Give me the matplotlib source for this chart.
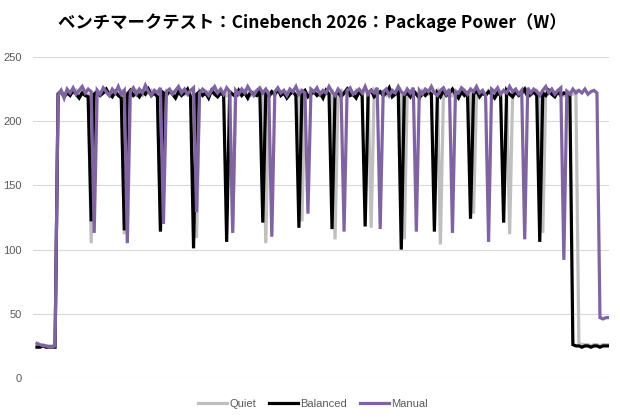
import matplotlib
matplotlib.use('Agg')
import matplotlib.pyplot as plt

# Package Power (W) per sample
quiet = [25, 25, 26, 25, 25, 25, 25,
         222, 224, 221,
         223, 221, 222, 224, 220, 223, 222, 221, 105, 222,
         224, 221, 223, 222, 220, 224, 222, 221, 223, 112,
         222, 223, 221, 224, 222, 220, 223, 222, 224, 221,
         223, 116, 221, 224, 222, 223, 220, 222, 224, 221,
         223, 222, 220, 109, 224, 222, 221, 223, 222, 224,
         221, 223, 222, 220, 224, 115, 222, 223, 221, 224,
         222, 220, 223, 222, 224, 221, 105, 223, 222, 220,
         224, 222, 221, 223, 222, 224, 220, 223, 122, 222,
         221, 224, 222, 223, 220, 222, 224, 221, 223, 108,
         222, 224, 221, 223, 222, 220, 224, 222, 221, 223,
         222, 117, 224, 221, 223, 222, 220, 224, 222, 221,
         223, 222, 108, 224, 221, 223, 222, 220, 224, 222,
         221, 223, 222, 224, 104, 221, 223, 222, 220, 224,
         222, 221, 223, 222, 224, 128, 221, 223, 222, 220,
         224, 222, 221, 223, 222, 224, 220, 112, 223, 222,
         221, 224, 222, 223, 220, 222, 224, 221, 113, 223,
         222, 224, 221, 223, 222, 220, 224, 222, 221, 223,
         27, 26, 26, 26, 25, 26, 26, 25, 26, 26, 26]

balanced = [24, 24, 25, 24, 24, 24, 24,
            221, 223, 219,
            222, 220, 224, 221, 218, 222, 220, 219, 122, 221,
            223, 220, 222, 225, 221, 219, 223, 220, 218, 115,
            221, 224, 220, 222, 219, 223, 221, 225, 220, 222,
            219, 114, 222, 220, 224, 221, 218, 223, 220, 222,
            225, 219, 101, 221, 223, 220, 222, 218, 224, 221,
            219, 222, 220, 106, 223, 221, 219, 224, 220, 222,
            218, 223, 221, 220, 224, 121, 222, 219, 223, 221,
            225, 220, 222, 218, 221, 223, 220, 117, 222, 224,
            219, 221, 223, 220, 222, 218, 224, 221, 116, 220,
            223, 219, 222, 225, 220, 221, 218, 223, 220, 118,
            222, 224, 219, 221, 223, 220, 222, 226, 219, 221,
            223, 100, 220, 222, 219, 224, 221, 218, 222, 220,
            223, 221, 114, 222, 219, 224, 220, 222, 225, 221,
            218, 223, 220, 222, 124, 221, 224, 219, 222, 220,
            223, 221, 218, 222, 220, 121, 224, 221, 219, 223,
            220, 222, 225, 219, 221, 223, 220, 106, 222, 220,
            224, 221, 219, 223, 220, 222, 221, 220,
            26, 25, 25, 24, 25, 25, 24, 25, 25, 24, 25, 25, 25]

manual = [27, 26, 25, 25, 24, 24, 25,
          220, 224, 218,
          225, 222, 226, 221, 224, 227, 222, 225, 223, 113,
          224, 221, 226, 223, 220, 225, 222, 227, 221, 224,
          105, 223, 226, 221, 225, 222, 228, 223, 220, 224,
          222, 226, 120, 223, 225, 221, 224, 227, 222, 225,
          221, 224, 226, 129, 222, 225, 223, 220, 224, 227,
          222, 225, 221, 226, 223, 113, 224, 221, 225, 222,
          227, 223, 220, 224, 226, 222, 225, 221, 110, 223,
          226, 222, 224, 220, 225, 223, 227, 221, 224, 222,
          128, 225, 223, 226, 221, 224, 222, 227, 223, 220,
          225, 222, 114, 224, 226, 221, 223, 225, 222, 227,
          221, 224, 222, 226, 116, 223, 225, 220, 224, 222,
          227, 223, 221, 225, 222, 226, 114, 224, 221, 225,
          223, 227, 222, 220, 224, 226, 221, 225, 113, 223,
          222, 226, 224, 221, 225, 223, 227, 222, 224, 220,
          106, 225, 223, 226, 221, 224, 222, 227, 223, 225,
          221, 224, 108, 226, 222, 225, 223, 220, 224, 227,
          222, 225, 221, 224, 226, 92, 223, 221, 225, 222,
          224, 222, 225, 221, 223, 224, 222,
          47, 46, 47, 47]

series = [('Quiet', quiet, '#BFBFBF'),
          ('Balanced', balanced, '#000000'),
          ('Manual', manual, '#8064A2')]

fig = plt.figure(figsize=(6.2, 4.2), dpi=100)
ax = fig.add_axes([33 / 620, 42 / 420, 576 / 620, 321 / 420])

for name, vals, col in series:
    ax.plot(range(len(vals)), vals, color=col, lw=2.3, label=name,
            solid_joinstyle='miter')

ax.set_xlim(-1.33, len(manual) - 1)
ax.set_ylim(0, 250)
ax.set_yticks(range(0, 251, 50))
ax.grid(axis='y', color='#D9D9D9', lw=0.8)
ax.set_axisbelow(True)
ax.set_xticks([])
for s in ax.spines.values():
    s.set_visible(False)
ax.tick_params(axis='y', length=0, pad=8, labelsize=8, labelcolor='#595959')
for t in ax.get_yticklabels():
    t.set_family(['Liberation Sans', 'DejaVu Sans'])

fig.text(0.503, 0.947, 'ベンチマークテスト：Cinebench 2026：Package Power（W）',
         ha='center', va='center', fontsize=12.5, fontweight='bold',
         family=['Noto Sans CJK JP', 'DejaVu Sans'])

leg = fig.legend(loc='center', bbox_to_anchor=(0.505, 0.038), ncol=3,
                 frameon=False, handlelength=2.6,
                 handletextpad=0.2, columnspacing=1.2,
                 prop={'family': 'Liberation Sans', 'size': 8})
for t in leg.get_texts():
    t.set_color('#595959')

fig.savefig('out.png', dpi=100)
